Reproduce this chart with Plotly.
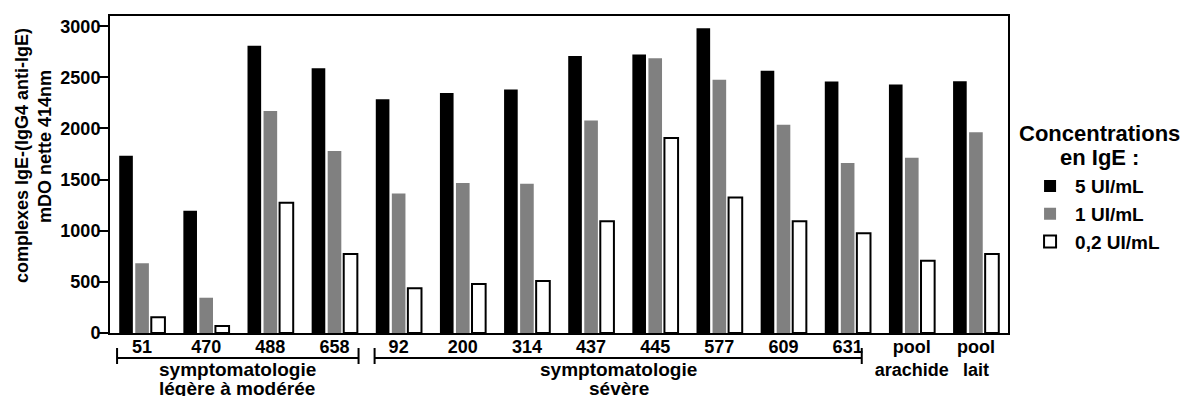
import plotly.graph_objects as go

categories = ["51", "470", "488", "658", "92", "200", "314", "437", "445", "577",
              "609", "631", "pool<br>arachide", "pool<br>lait"]
series_names = ["5 UI/mL", "1 UI/mL", "0,2 UI/mL"]
vals_5 = [1733, 1196, 2808, 2590, 2287, 2346, 2382, 2708, 2724, 2981, 2564, 2460, 2431, 2463]
vals_1 = [681, 345, 2170, 1779, 1365, 1466, 1460, 2079, 2688, 2476, 2036, 1662, 1714, 1962]
vals_02 = [155, 68, 1274, 772, 437, 479, 508, 1092, 1906, 1326, 1092, 975, 707, 772]
y_ticks = [0, 500, 1000, 1500, 2000, 2500, 3000]
group1_lines = ["symptomatologie", "légère à modérée"]
group2_lines = ["symptomatologie", "sévère"]
ytitle_lines = ["complexes IgE-(IgG4 anti-IgE)", "mDO nette 414nm"]
legend_title_lines = ["Concentrations", "en IgE :"]

FONT = "Liberation Sans, Arial, sans-serif"

fig = go.Figure()
fig.add_trace(go.Bar(x=categories, y=vals_5, name=series_names[0],
                     marker=dict(color="black", line=dict(color="black", width=0))))
fig.add_trace(go.Bar(x=categories, y=vals_1, name=series_names[1],
                     marker=dict(color="#808080", line=dict(color="#808080", width=0))))
fig.add_trace(go.Bar(x=categories, y=vals_02, name=series_names[2],
                     marker=dict(color="white", line=dict(color="black", width=2))))

fig.update_layout(
    width=1182, height=396,
    margin=dict(l=110, r=174, t=16, b=63, autoexpand=False),
    plot_bgcolor="white", paper_bgcolor="white",
    barmode="group", bargap=0.25, bargroupgap=0.15,
    font=dict(family=FONT, size=18, color="black", weight="bold"),
    showlegend=True,
    legend=dict(
        x=1.019, y=0.523, xanchor="left", yanchor="top",
        font=dict(family=FONT, size=19, weight="bold"),
        itemwidth=40, tracegroupgap=0, bgcolor="rgba(0,0,0,0)",
    ),
)

fig.update_xaxes(
    type="category", showline=True, linecolor="black", linewidth=2, mirror=True,
    ticks="", showgrid=False, zeroline=False, ticklabelstandoff=-4,
    tickfont=dict(family=FONT, size=18, weight="bold"),
)
fig.update_yaxes(
    range=[0, 3100], tickvals=y_ticks, ticks="outside", ticklen=9, tickwidth=2,
    tickcolor="black", showline=True, linecolor="black", linewidth=2, mirror=True,
    showgrid=False, zeroline=False, ticklabelstandoff=-5,
    tickfont=dict(family=FONT, size=18, weight="bold"),
)

# y-axis title (two lines)
fig.add_annotation(text=ytitle_lines[0], xref="paper", yref="paper", x=-0.098, y=0.5615,
                   xanchor="center", yanchor="middle", textangle=-90, showarrow=False,
                   font=dict(family=FONT, size=18, weight="bold"))
fig.add_annotation(text=ytitle_lines[1], xref="paper", yref="paper", x=-0.0724, y=0.59,
                   xanchor="center", yanchor="middle", textangle=-90, showarrow=False,
                   font=dict(family=FONT, size=18, weight="bold"))

# legend heading
for yy, txt in zip((0.628, 0.553), legend_title_lines):
    fig.add_annotation(text=txt, xref="paper", yref="paper", x=1.102, y=yy,
                       xanchor="center", yanchor="middle", showarrow=False,
                       font=dict(family=FONT, size=22, weight="bold"))

# group brackets
brackets = [(-0.39, 3.375), (3.625, 11.22)]
yb, yt0, yt1 = -0.0789, -0.0473, -0.0978
for x0, x1 in brackets:
    fig.add_shape(type="line", xref="x", yref="paper", x0=x0, x1=x1, y0=yb, y1=yb,
                  line=dict(color="black", width=2))
    for xe in (x0, x1):
        fig.add_shape(type="line", xref="x", yref="paper", x0=xe, x1=xe, y0=yt0, y1=yt1,
                      line=dict(color="black", width=2))

for xc, lines in ((1.48, group1_lines), (7.43, group2_lines)):
    for yy, txt in zip((-0.1167, -0.1737), lines):
        fig.add_annotation(text=txt, xref="x", yref="paper", x=xc, y=yy,
                           xanchor="center", yanchor="middle", showarrow=False,
                           font=dict(family=FONT, size=19, weight="bold"))

fig.write_html("out.html", config={"displayModeBar": False},
               post_script="document.body.style.margin='0px';")
